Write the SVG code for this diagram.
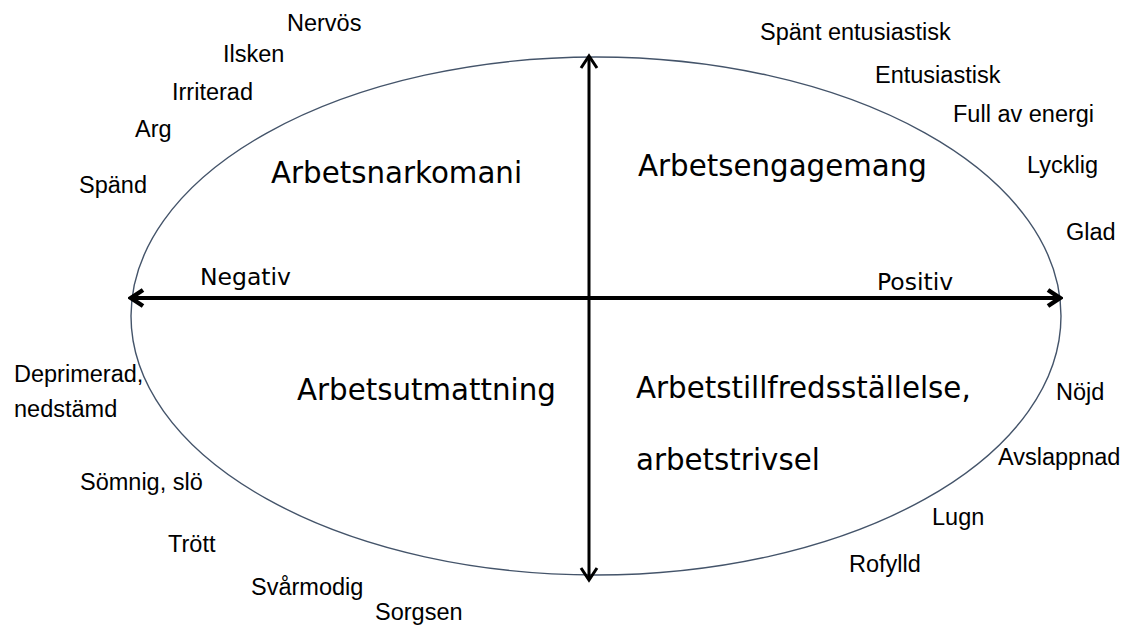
<svg xmlns="http://www.w3.org/2000/svg" width="1126" height="631" viewBox="0 0 1126 631">
<style>
.lbl{font-family:"Liberation Sans",Arial,sans-serif;font-size:23.5px;fill:#000}
.big{font-family:"DejaVu Sans",Verdana,sans-serif;font-size:29.3px;fill:#000}
.axis{font-family:"DejaVu Sans",Verdana,sans-serif;font-size:23.5px;fill:#000}
</style>
<defs>
<marker id="ah" markerUnits="userSpaceOnUse" viewBox="0 0 18 22" refX="15" refY="11" markerWidth="18" markerHeight="22" orient="auto-start-reverse">
<path d="M3,3 L15,11 L3,19" fill="none" stroke="#000" stroke-width="4.5"/>
</marker>
<marker id="av" markerUnits="userSpaceOnUse" viewBox="0 0 18 22" refX="15" refY="11" markerWidth="18" markerHeight="22" orient="auto-start-reverse">
<path d="M3,3 L15,11 L3,19" fill="none" stroke="#000" stroke-width="3"/>
</marker>
</defs>
<rect width="1126" height="631" fill="#fff"/>
<g id="ellipse">
<ellipse cx="596" cy="316" rx="465" ry="259" fill="none" stroke="#44546A" stroke-width="1.4"/>
</g>
<g id="connectors">
<line x1="131" y1="298" x2="1060" y2="298" stroke="#000" stroke-width="4" marker-start="url(#ah)" marker-end="url(#ah)"/>
<line x1="589" y1="56" x2="589" y2="580" stroke="#000" stroke-width="3" marker-start="url(#av)" marker-end="url(#av)"/>
</g>
<g id="quadrants">
<text class="big" x="271" y="183">Arbetsnarkomani</text>
<text class="big" x="638" y="176">Arbetsengagemang</text>
<text class="big" x="297" y="400">Arbetsutmattning</text>
<text class="big" x="636" y="398">Arbetstillfredsställelse,</text>
<text class="big" x="636" y="470">arbetstrivsel</text>
</g>
<g id="axes">
<text class="axis" x="200" y="285">Negativ</text>
<text class="axis" x="877" y="290">Positiv</text>
</g>
<g id="labels">
<text class="lbl" x="287" y="31">Nervös</text>
<text class="lbl" x="223" y="62">Ilsken</text>
<text class="lbl" x="172" y="100">Irriterad</text>
<text class="lbl" x="135" y="137">Arg</text>
<text class="lbl" x="79" y="193">Spänd</text>
<text class="lbl" x="760" y="40">Spänt entusiastisk</text>
<text class="lbl" x="875" y="83">Entusiastisk</text>
<text class="lbl" x="953" y="122">Full av energi</text>
<text class="lbl" x="1027" y="173">Lycklig</text>
<text class="lbl" x="1066" y="240">Glad</text>
<text class="lbl" x="14" y="382">Deprimerad,</text>
<text class="lbl" x="14" y="417">nedstämd</text>
<text class="lbl" x="80" y="490">Sömnig, slö</text>
<text class="lbl" x="168" y="552">Trött</text>
<text class="lbl" x="251" y="595">Svårmodig</text>
<text class="lbl" x="375" y="620">Sorgsen</text>
<text class="lbl" x="1056" y="400">Nöjd</text>
<text class="lbl" x="998" y="465">Avslappnad</text>
<text class="lbl" x="932" y="525">Lugn</text>
<text class="lbl" x="849" y="572">Rofylld</text>
</g>
</svg>
